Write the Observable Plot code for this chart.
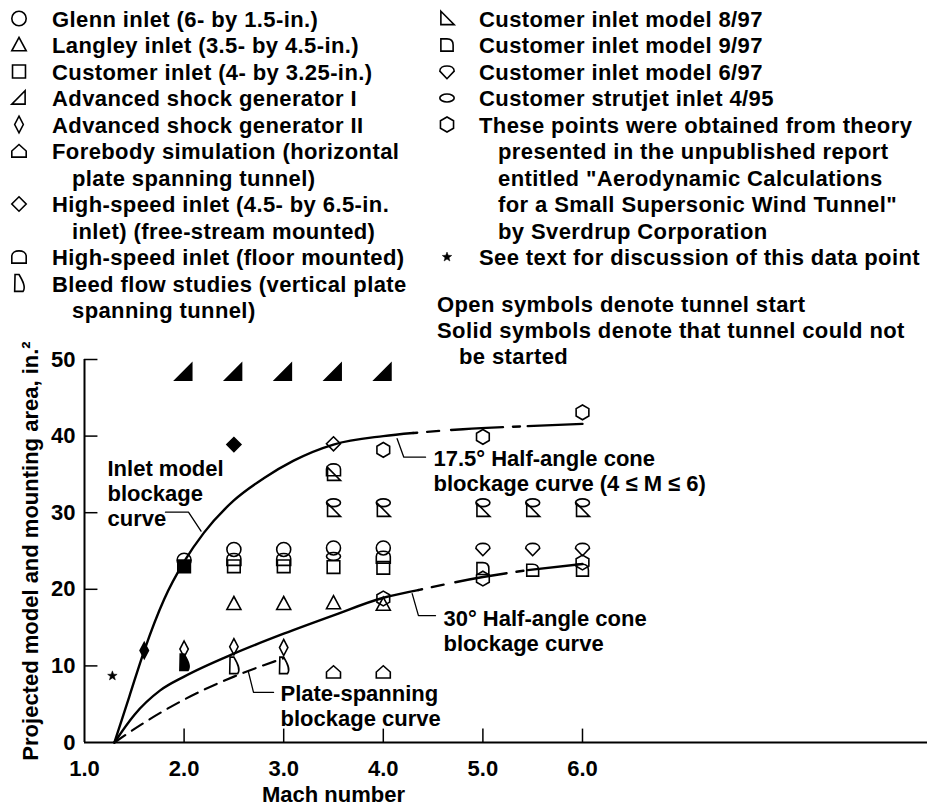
<!DOCTYPE html>
<html>
<head>
<meta charset="utf-8">
<script src="https://cdn.jsdelivr.net/npm/d3@7"></script>
<script src="https://cdn.jsdelivr.net/npm/@observablehq/plot@0.6"></script>
<style>
  html, body { margin: 0; padding: 0; background: #fff; }
  #chart { width: 927px; height: 807px; }
</style>
</head>
<body>
<div id="chart"></div>
<script>
// ---- Axis ticks ----
const xTickLabels = [1, 2, 3, 4, 5, 6];
const xTickMarks = [2, 3, 4, 5, 6];
const yTickLabels = [0, 10, 20, 30, 40, 50];
const yTickMarks = [10, 20, 30, 40, 50];

// ---- Data points: [Mach number, area in.^2] ----
const glennOpen = [[2.0, 23.8], [2.5, 25.2], [3.0, 25.2], [3.5, 25.4], [4.0, 25.4]];
const langleyOpen = [[2.5, 18.1], [3.0, 18.1], [3.5, 18.2], [4.0, 18.0]];
const customerOpen = [[2.5, 23.0], [3.0, 23.0], [3.5, 22.9], [4.0, 22.8]];
const customerSolid = [[2.0, 23.0]];
const shockISolid = [[2.0, 48.3], [2.5, 48.3], [3.0, 48.3], [3.5, 48.3], [4.0, 48.3]];
const shockIIOpen = [[2.0, 12.2], [2.5, 12.5], [3.0, 12.4]];
const shockIISolid = [[1.6, 12.0]];
const forebodyOpen = [[3.5, 9.2], [4.0, 9.2]];
const freeStreamOpen = [[3.5, 39.0]];
const freeStreamSolid = [[2.5, 38.9]];
const floorOpen = [[2.5, 23.9], [3.0, 23.9], [3.5, 35.6], [4.0, 24.2]];
const bleedOpen = [[2.5, 10.0], [3.0, 10.0]];
const bleedSolid = [[2.0, 10.4]];
const model897Open = [[3.5, 35.0], [3.5, 30.3], [4.0, 30.3], [5.0, 30.3], [5.5, 30.3], [6.0, 30.3]];
const model997Open = [[5.0, 22.7], [5.5, 22.5], [6.0, 22.5]];
const model697Open = [[5.0, 25.3], [5.5, 25.3], [6.0, 25.3]];
const strutjetOpen = [[3.5, 24.3], [3.5, 31.3], [4.0, 31.3], [5.0, 31.3], [5.5, 31.3], [6.0, 31.3]];
const theoryOpen = [[4.0, 38.2], [5.0, 39.9], [6.0, 43.1], [4.0, 18.8], [5.0, 21.4], [6.0, 23.5]];
const discussionPoint = [[1.28, 8.7]];

// ---- Blockage curves ----
const inletCurve = [[1.3, 0], [1.45, 6], [1.6, 12], [1.8, 18.7], [2.0, 23.6], [2.2, 27.4], [2.5, 31.6],
  [2.8, 34.5], [3.1, 36.8], [3.5, 38.9], [4.0, 40.0], [4.3, 40.4]];
const cone175Bridge = [[4.3, 40.4], [4.8, 40.9], [5.45, 41.3]];
const cone175Curve = [[5.45, 41.3], [6.0, 41.6]];
const cone30Curve = [[1.3, 0], [1.5, 3.6], [1.76, 6.8], [2.0, 8.6], [2.5, 11.6], [3.0, 14.2],
  [3.5, 16.6], [4.0, 18.9], [4.35, 19.9]];
const cone30Bridge = [[4.35, 19.9], [5.0, 21.6], [5.45, 22.5]];
const cone30End = [[5.45, 22.5], [6.0, 23.3]];
const plateCurve = [[1.3, 0], [1.6, 2.6], [2.0, 5.6], [2.5, 8.6], [3.0, 11.0]];

// ---- Curve annotations ----
const curveLabels = [
  {M: 1.231, A: 37.1, text: "Inlet model\nblockage\ncurve"},
  {M: 4.504, A: 38.35, text: "17.5° Half-angle cone\nblockage curve (4 ≤ M ≤ 6)"},
  {M: 4.604, A: 17.55, text: "30° Half-angle cone\nblockage curve"},
  {M: 2.968, A: 7.7, text: "Plate-spanning\nblockage curve"}
];
const leaders = [
  [[1.813, 30.07], [2.044, 30.07], [2.17, 27.6]],
  [[4.139, 39.66], [4.206, 37.25], [4.424, 37.25]],
  [[4.29, 19.44], [4.353, 16.56], [4.524, 16.56]],
  [[2.647, 9.15], [2.697, 6.54], [2.898, 6.54]]
];

// ---- Legend text ----
const legendLeft = [
  ["glenn", ["Glenn inlet (6- by 1.5-in.)"]],
  ["langley", ["Langley inlet (3.5- by 4.5-in.)"]],
  ["customer", ["Customer inlet (4- by 3.25-in.)"]],
  ["shockI", ["Advanced shock generator I"]],
  ["shockII", ["Advanced shock generator II"]],
  ["forebody", ["Forebody simulation (horizontal", "plate spanning tunnel)"]],
  ["freeStream", ["High-speed inlet (4.5- by 6.5-in.", "inlet) (free-stream mounted)"]],
  ["floor", ["High-speed inlet (floor mounted)"]],
  ["bleed", ["Bleed flow studies (vertical plate", "spanning tunnel)"]]
];
const legendRight = [
  ["model897", ["Customer inlet model 8/97"]],
  ["model997", ["Customer inlet model 9/97"]],
  ["model697", ["Customer inlet model 6/97"]],
  ["strutjet", ["Customer strutjet inlet 4/95"]],
  ["theory", ["These points were obtained from theory", "presented in the unpublished report",
    "entitled \"Aerodynamic Calculations", "for a Small Supersonic Wind Tunnel\"", "by Sverdrup Corporation"]],
  ["star", ["See text for discussion of this data point"]]
];
const legendNotes = ["Open symbols denote tunnel start", "Solid symbols denote that tunnel could not", "be started"];

// ---- Marker shapes (d3 symbol types; r derived from the symbol area) ----
const shape = fn => ({draw(ctx, size) { fn(ctx, Math.sqrt(size / Math.PI)); ctx.closePath(); }});
function ellipse(ctx, cx, cy, rx, ry) {
  const k = 0.5523;
  ctx.moveTo(cx + rx, cy);
  ctx.bezierCurveTo(cx + rx, cy + k * ry, cx + k * rx, cy + ry, cx, cy + ry);
  ctx.bezierCurveTo(cx - k * rx, cy + ry, cx - rx, cy + k * ry, cx - rx, cy);
  ctx.bezierCurveTo(cx - rx, cy - k * ry, cx - k * rx, cy - ry, cx, cy - ry);
  ctx.bezierCurveTo(cx + k * rx, cy - ry, cx + rx, cy - k * ry, cx + rx, cy);
}
const symbols = {
  glenn: shape((c, r) => ellipse(c, 0, 0, r, r)),
  langley: shape((c, r) => { c.moveTo(0, -r * 1.05); c.lineTo(r, r * 0.8); c.lineTo(-r, r * 0.8); }),
  customer: shape((c, r) => { c.moveTo(-r * 0.9, -r * 0.9); c.lineTo(r * 0.9, -r * 0.9); c.lineTo(r * 0.9, r * 0.9); c.lineTo(-r * 0.9, r * 0.9); }),
  shockI: shape((c, r) => { c.moveTo(-r, r * 0.85); c.lineTo(r * 0.85, r * 0.85); c.lineTo(r * 0.85, -r); }),
  shockII: shape((c, r) => { c.moveTo(0, -r * 1.15); c.lineTo(r * 0.6, 0); c.lineTo(0, r * 1.15); c.lineTo(-r * 0.6, 0); }),
  forebody: shape((c, r) => { c.moveTo(-r, r * 0.85); c.lineTo(r, r * 0.85); c.lineTo(r, 0); c.lineTo(0, -r * 0.9); c.lineTo(-r, 0); }),
  freeStream: shape((c, r) => { c.moveTo(0, -r); c.lineTo(r, 0); c.lineTo(0, r); c.lineTo(-r, 0); }),
  floor: shape((c, r) => {
    c.moveTo(-r, r * 0.85); c.lineTo(-r, -0.1 * r);
    c.bezierCurveTo(-r, -r * 1.1, r, -r * 1.1, r, -0.1 * r);
    c.lineTo(r, r * 0.85);
  }),
  bleed: shape((c, r) => {
    c.moveTo(-r * 0.55, -r * 1.25); c.lineTo(0, -r * 1.25);
    c.bezierCurveTo(r * 0.5, -r * 0.4, r * 1.0, r * 0.5, r * 0.55, r * 1.1);
    c.lineTo(-r * 0.6, r * 1.1);
  }),
  model897: shape((c, r) => { c.moveTo(-r * 0.85, -r); c.lineTo(r, r * 0.85); c.lineTo(-r * 0.85, r * 0.85); }),
  model997: shape((c, r) => {
    c.moveTo(-r * 0.85, r * 0.85); c.lineTo(-r * 0.85, -r * 0.85); c.lineTo(0, -r * 0.85);
    c.bezierCurveTo(r * 0.8, -r * 0.85, r * 0.85, -r * 0.3, r * 0.85, 0);
    c.lineTo(r * 0.85, r * 0.85);
  }),
  model697: shape((c, r) => {
    c.moveTo(0, r);
    c.lineTo(-r, -0.05 * r);
    c.bezierCurveTo(-r, -r * 1.0, r, -r * 1.0, r, -0.05 * r);
  }),
  strutjet: shape((c, r) => ellipse(c, 0, 0, r, r * 0.55)),
  theory: shape((c, r) => {
    for (let i = 0; i < 6; i++) {
      const a = Math.PI / 6 + i * Math.PI / 3;
      const px = Math.cos(a) * r * 1.05, py = Math.sin(a) * r * 1.05;
      i ? c.lineTo(px, py) : c.moveTo(px, py);
    }
  }),
  star: shape((c, r) => {
    for (let i = 0; i < 10; i++) {
      const a = -Math.PI / 2 + i * Math.PI / 5;
      const rr = i % 2 ? r * 0.42 : r;
      const px = Math.cos(a) * rr, py = Math.sin(a) * rr;
      i ? c.lineTo(px, py) : c.moveTo(px, py);
    }
  })
};

const R = 7;
const sizeOf = {shockI: 9};
const series = [
  [glennOpen, "glenn", false], [langleyOpen, "langley", false], [customerOpen, "customer", false],
  [customerSolid, "customer", true], [shockISolid, "shockI", true], [shockIIOpen, "shockII", false],
  [shockIISolid, "shockII", true], [forebodyOpen, "forebody", false], [freeStreamOpen, "freeStream", false],
  [freeStreamSolid, "freeStream", true],
  [floorOpen, "floor", false], [bleedOpen, "bleed", false], [bleedSolid, "bleed", true],
  [model897Open, "model897", false], [model997Open, "model997", false], [model697Open, "model697", false],
  [strutjetOpen, "strutjet", false], [theoryOpen, "theory", false]
];

const X = d => d[0], Y = d => d[1];
const font = "'Liberation Sans', Arial, Helvetica, sans-serif";
const FS = 22;

const marks = [
  // axes
  Plot.ruleY([0], {x1: 1, x2: 9.464, stroke: "black", strokeWidth: 2}),
  Plot.ruleX([1], {y1: 0, y2: 50, stroke: "black", strokeWidth: 2}),
  Plot.ruleX(xTickMarks, {x: d => d, y1: 0, y2: 1.75, stroke: "black", strokeWidth: 1.5}),
  Plot.ruleY(yTickMarks, {y: d => d, x1: 1, x2: 1.135, stroke: "black", strokeWidth: 1.5}),
  Plot.text(yTickLabels, {x: 1, y: d => d, text: d => String(d), textAnchor: "end", dx: -9, fontSize: FS, fontWeight: "bold"}),
  Plot.text(xTickLabels, {x: d => d, y: 0, text: d => d.toFixed(1), lineAnchor: "top", dy: 18, fontSize: FS, fontWeight: "bold"}),
  Plot.text(["Mach number"], {x: d3.mean(d3.extent(xTickLabels)), frameAnchor: "bottom", textAnchor: "middle", lineAnchor: "bottom", dy: 59, fontSize: FS, fontWeight: "bold"}),
  Plot.text(["Projected model and mounting area, in.²"], {y: d3.mean(d3.extent(yTickLabels)), frameAnchor: "left", textAnchor: "middle", rotate: -90, dx: -54, fontSize: FS, fontWeight: "bold"}),
  // curves
  Plot.line(inletCurve, {x: X, y: Y, curve: "monotone-x", strokeWidth: 2.4}),
  Plot.line(cone175Bridge, {x: X, y: Y, curve: "monotone-x", strokeWidth: 2.4, strokeDasharray: "4 10 12 12 52 10 7 17"}),
  Plot.line(cone175Curve, {x: X, y: Y, curve: "monotone-x", strokeWidth: 2.4}),
  Plot.line(cone30Curve, {x: X, y: Y, curve: "monotone-x", strokeWidth: 2.4}),
  Plot.line(cone30Bridge, {x: X, y: Y, curve: "monotone-x", strokeWidth: 2.4, strokeDasharray: "4 10 12 12 52 10 7 17"}),
  Plot.line(cone30End, {x: X, y: Y, curve: "monotone-x", strokeWidth: 2.4}),
  Plot.line(plateCurve, {x: X, y: Y, curve: "monotone-x", strokeWidth: 2.2, strokeDasharray: "13 8"}),
  // annotations
  ...leaders.map(l => Plot.line(l, {x: X, y: Y, strokeWidth: 1.3})),
  Plot.text(curveLabels, {x: "M", y: "A", text: "text", textAnchor: "start", lineAnchor: "top", lineHeight: 1.13, fontSize: FS, fontWeight: "bold"}),
  // data points
  ...series.map(([data, key, solid]) => Plot.dot(data, {x: X, y: Y, r: sizeOf[key] ?? R, symbol: symbols[key],
    fill: solid ? "black" : "none", stroke: "black", strokeWidth: 1.6})),
  Plot.dot(discussionPoint, {x: X, y: Y, r: 5, symbol: symbols.star, fill: "black", stroke: "black", strokeWidth: 0.5})
];

const svg = Plot.plot({
  width: 927,
  height: 807,
  marginTop: 359,
  marginBottom: 65,
  marginLeft: 84,
  marginRight: 0,
  x: {domain: [1, 9.464], axis: null},
  y: {domain: [0, 50], axis: null},
  style: {fontFamily: font, fontSize: FS + "px", background: "white", color: "black", overflow: "visible"},
  marks
});

// ---- Legend block drawn above the plot frame ----
const lg = d3.select(svg).append("g")
  .attr("font-family", font).attr("font-size", FS).attr("font-weight", "bold")
  .attr("text-anchor", "start").attr("letter-spacing", "0.4px").attr("fill", "black");
const LINE = 26.5, BASE = 26.5;
function legendColumn(items, symX, textX, indentX) {
  let row = 0;
  for (const [key, lines] of items) {
    const base = BASE + row * LINE;
    const r = key === "star" ? 5 : 7.2;
    lg.append("path")
      .attr("d", d3.symbol(symbols[key], Math.PI * r * r)())
      .attr("transform", `translate(${symX},${base - 8})`)
      .attr("fill", key === "star" ? "black" : "none")
      .attr("stroke", "black").attr("stroke-width", key === "star" ? 0.5 : 1.6);
    lines.forEach((t, i) => {
      lg.append("text").attr("x", i ? indentX : textX).attr("y", base + i * LINE).text(t);
    });
    row += lines.length;
  }
}
legendColumn(legendLeft, 19, 52, 72);
legendColumn(legendRight, 447, 479, 498);
legendNotes.forEach((t, i) => {
  lg.append("text").attr("x", i === 2 ? 459 : 437).attr("y", 311.5 + i * 26).text(t);
});

document.getElementById("chart").append(svg);
</script>
</body>
</html>
